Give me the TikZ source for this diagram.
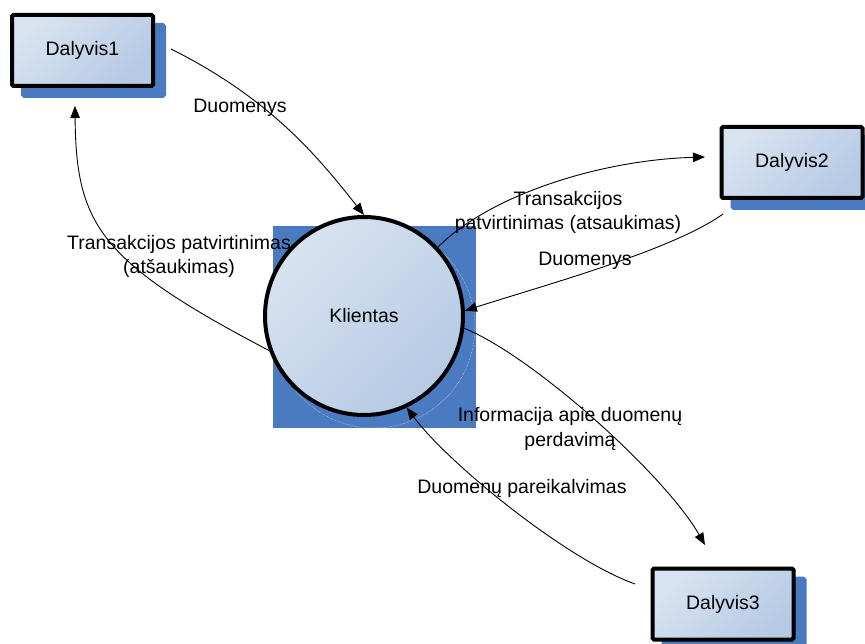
\documentclass[tikz,border=0pt]{standalone}
\usepackage{fontspec}
\setmainfont{Liberation Sans}
\usetikzlibrary{arrows.meta,shadows}
\definecolor{boxlight}{RGB}{216,227,241}
\definecolor{boxdark}{RGB}{182,202,228}
\definecolor{shadowblue}{RGB}{74,122,192}

\begin{document}
\begin{tikzpicture}[x=1pt,y=-1pt,
  every node/.style={font=\fontsize{19.5pt}{24.5pt}\selectfont},
  actor/.style={draw=black, line width=4pt, rounded corners=1.5pt,
    minimum width=141pt, minimum height=71pt, inner sep=0pt,
    top color=boxlight, bottom color=boxdark, shading angle=45,
    drop shadow={shadow xshift=11pt, shadow yshift=-10pt,
      fill=shadowblue, draw=shadowblue, opacity=1, rounded corners=0pt}},
  process/.style={circle, draw=black, line width=4pt, minimum size=198pt,
    inner sep=0pt, top color=boxlight, bottom color=boxdark, shading angle=45},
  flow/.style={draw=black, line width=0.9pt, -{Triangle[length=12pt,width=9.5pt]}},
  lbl/.style={anchor=base, align=center, inner sep=0pt}
]
\useasboundingbox (0,0) rectangle (865,644);

% blue square behind the process circle, with its faint outline ring
\fill[shadowblue] (273,226) rectangle (476,428);
\draw[white!80!shadowblue, densely dotted, line width=0.5pt] (374,327) circle[radius=101];

% process and external entities
\node[process] (k) at (364,316) {Klientas};
\node[actor] (d1) at (82.5,50.5) {Dalyvis1};
\node[actor] (d2) at (792,162.5) {Dalyvis2};
\node[actor] (d3) at (723,604) {Dalyvis3};

% free ends of the data flows next to the entities
\coordinate (a1) at (171,49);
\coordinate (a2) at (75,106);
\coordinate (a3) at (705,157);
\coordinate (a4) at (723,214);
\coordinate (a5) at (705,545);
\coordinate (a6) at (635,584);

% data flows
\draw[flow] (a1) .. controls (271,99) and (318,157) .. (k.north);
\draw[flow] (k.200) .. controls (100,262) and (76,225) .. (a2);
\draw[flow] (k.43) .. controls (490,195) and (600,160) .. (a3);
\draw[flow] (a4) .. controls (673,250) and (545,285) .. (k.3);
\draw[flow] (k.-7) .. controls (533,356) and (665,475) .. (a5);
\draw[flow] (a6) .. controls (565,559) and (447,462) .. (k.-65);

% flow labels (base anchor sits on the last line)
\node[lbl] (t1) at (240,113) {Duomenys};
\node[lbl] (t2) at (179,274) {Transakcijos patvirtinimas\\(atšaukimas)};
\node[lbl] (t3) at (568,230) {Transakcijos\\patvirtinimas (atsaukimas)};
\node[lbl] (t4) at (585,266) {Duomenys};
\node[lbl] (t5) at (570,446) {Informacija apie duomenų\\perdavimą};
\node[lbl] (t6) at (522,493) {Duomenų pareikalvimas};
\end{tikzpicture}
\end{document}
